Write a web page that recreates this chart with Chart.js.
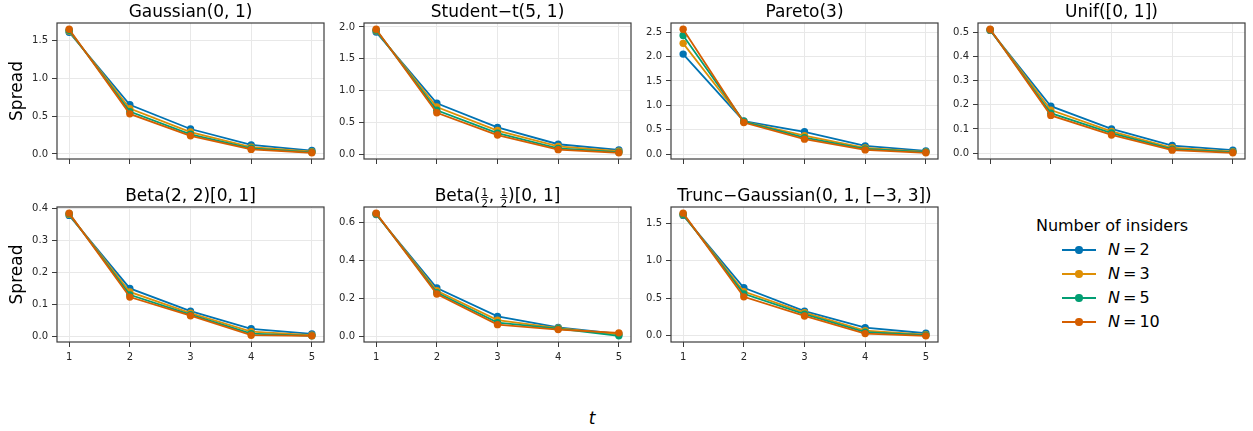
<!DOCTYPE html>
<html>
<head>
<meta charset="utf-8">
<script src="https://cdn.jsdelivr.net/npm/chart.js@4/dist/chart.umd.min.js"></script>
<style>
  html, body { margin: 0; padding: 0; background: #fff; }
  body { position: relative; width: 1253px; height: 431px; overflow: hidden; font-family: 'DejaVu Sans', sans-serif; }
  canvas { position: absolute; }
  .txt { position: absolute; color: #000; white-space: nowrap; line-height: 1; }
</style>
</head>
<body>
<div id="legend"></div>
<div class="txt" id="xlabel" style="font-size:17px;font-style:italic;left:592px;top:418px;transform:translate(-50%,-50%);">t</div>
<script>
// Time steps on the x axis
const steps = [1, 2, 3, 4, 5];
const xTicks = [1, 2, 3, 4, 5];

// Series: number of insiders
const seriesLabels = ['2', '3', '5', '10'];
const seriesColors = ['#0173B2', '#DE8F05', '#029E73', '#D55E00'];

// Spread per time step, one row per series (N = 2, 3, 5, 10)
const gaussianSpread = [
  [1.61, 0.65, 0.33, 0.12, 0.045],
  [1.625, 0.60, 0.29, 0.09, 0.03],
  [1.635, 0.56, 0.26, 0.075, 0.022],
  [1.65, 0.53, 0.24, 0.06, 0.015]
];
const studentSpread = [
  [1.92, 0.80, 0.42, 0.155, 0.065],
  [1.94, 0.74, 0.37, 0.12, 0.045],
  [1.95, 0.69, 0.33, 0.09, 0.03],
  [1.965, 0.65, 0.30, 0.07, 0.02]
];
const paretoSpread = [
  [2.05, 0.68, 0.46, 0.17, 0.07],
  [2.27, 0.67, 0.38, 0.13, 0.05],
  [2.43, 0.67, 0.34, 0.11, 0.045],
  [2.56, 0.65, 0.31, 0.09, 0.03]
];
const uniformSpread = [
  [0.508, 0.194, 0.100, 0.031, 0.012],
  [0.510, 0.178, 0.090, 0.022, 0.006],
  [0.511, 0.165, 0.083, 0.016, 0.004],
  [0.513, 0.156, 0.075, 0.012, 0.001]
];
const beta22Spread = [
  [0.379, 0.151, 0.080, 0.025, 0.009],
  [0.382, 0.140, 0.074, 0.016, 0.005],
  [0.384, 0.131, 0.069, 0.010, 0.003],
  [0.386, 0.124, 0.066, 0.005, 0.003]
];
const betaHalfSpread = [
  [0.642, 0.254, 0.105, 0.047, 0.012],
  [0.645, 0.240, 0.085, 0.043, 0.010],
  [0.646, 0.230, 0.072, 0.040, 0.002],
  [0.649, 0.223, 0.061, 0.035, 0.018]
];
const truncGaussianSpread = [
  [1.605, 0.64, 0.33, 0.11, 0.035],
  [1.615, 0.59, 0.31, 0.07, 0.015],
  [1.62, 0.56, 0.29, 0.05, 0.008],
  [1.635, 0.52, 0.265, 0.03, 0.0]
];

// Y tick spacing of each panel
const yTickSteps = [0.5, 0.5, 0.5, 0.1, 0.1, 0.2, 0.5];

// Panel titles, as text runs; {frac:[num, den]} is a stacked fraction
const panelTitles = [
  [{ t: 'Gaussian(0, 1)' }],
  [{ t: 'Student\u2212t(5, 1)' }],
  [{ t: 'Pareto(3)' }],
  [{ t: 'Unif([0, 1])' }],
  [{ t: 'Beta(2, 2)[0, 1]' }],
  [{ t: 'Beta(' }, { frac: ['1', '2'] }, { t: ', ' }, { frac: ['1', '2'] }, { t: ')[0, 1]' }],
  [{ t: 'Trunc\u2212Gaussian(0, 1, [\u22123, 3])' }]
];

const panelValues = [gaussianSpread, studentSpread, paretoSpread, uniformSpread,
                     beta22Spread, betaHalfSpread, truncGaussianSpread];

// Grid geometry (pixels)
const colLeft = [57, 364, 671, 978];
const rowTop = [23, 207];
const plotW = 267;
const plotH = [136, 135];
const FONT = "'DejaVu Sans', sans-serif";

// Frame around the plot area plus the panel title
const panelDecor = {
  id: 'panelDecor',
  afterDraw(chart, args, opts) {
    const { ctx, chartArea } = chart;
    const { left, right, top, bottom } = chartArea;
    ctx.save();
    ctx.strokeStyle = '#3c3c3c';
    ctx.lineWidth = 1.2;
    ctx.strokeRect(left, top, right - left, bottom - top);

    const segs = opts.segments || [];
    const mainFont = '17px ' + FONT;
    const fracFont = '10px ' + FONT;
    ctx.fillStyle = '#000';
    ctx.textBaseline = 'alphabetic';
    ctx.textAlign = 'left';
    const widths = segs.map(s => {
      if (s.frac) {
        ctx.font = fracFont;
        return Math.max(ctx.measureText(s.frac[0]).width, ctx.measureText(s.frac[1]).width) + 2;
      }
      ctx.font = mainFont;
      return ctx.measureText(s.t).width;
    });
    const total = widths.reduce((a, b) => a + b, 0);
    let x = (left + right) / 2 - total / 2;
    const y = top - 6;
    segs.forEach((s, i) => {
      const w = widths[i];
      if (s.frac) {
        ctx.font = fracFont;
        ctx.textAlign = 'center';
        ctx.fillText(s.frac[0], x + w / 2, y - 5);
        ctx.fillText(s.frac[1], x + w / 2, y + 5.5);
        ctx.fillRect(x + 0.5, y - 3.8, w - 1, 0.8);
        ctx.textAlign = 'left';
      } else {
        ctx.font = mainFont;
        ctx.fillText(s.t, x, y);
      }
      x += w;
    });
    ctx.restore();
  }
};

function makePanel(idx) {
  const row = idx < 4 ? 0 : 1;
  const col = idx < 4 ? idx : idx - 4;
  const yW = col === 0 ? 57 : 44;
  const padTop = row === 0 ? 23 : 30;
  const padRight = 10;
  const xH = 30;
  const values = panelValues[idx];

  const canvas = document.createElement('canvas');
  const cw = yW + plotW + padRight;
  const ch = padTop + plotH[row] + xH;
  canvas.width = cw;
  canvas.height = ch;
  canvas.style.width = cw + 'px';
  canvas.style.height = ch + 'px';
  canvas.style.left = (colLeft[col] - yW) + 'px';
  canvas.style.top = (rowTop[row] - padTop) + 'px';
  document.body.appendChild(canvas);

  // autoscale with a 5% margin on each side
  const all = values.flat();
  const lo = Math.min(...all), hi = Math.max(...all);
  const margin = (hi - lo) * 0.05;

  const datasets = values.map((vals, s) => ({
    label: 'N = ' + seriesLabels[s],
    data: steps.map((t, k) => ({ x: t, y: vals[k] })),
    borderColor: seriesColors[s],
    backgroundColor: seriesColors[s],
    pointBackgroundColor: seriesColors[s],
    pointBorderWidth: 0,
    pointRadius: 3.7,
    borderWidth: 1.8,
    tension: 0,
    order: values.length - s
  }));

  new Chart(canvas, {
    type: 'line',
    data: { datasets },
    plugins: [panelDecor],
    options: {
      responsive: false,
      animation: false,
      devicePixelRatio: 1,
      events: [],
      layout: { padding: { top: padTop, right: padRight, left: 0, bottom: 0 } },
      plugins: {
        legend: { display: false },
        tooltip: { enabled: false },
        panelDecor: { segments: panelTitles[idx] }
      },
      scales: {
        x: {
          type: 'linear',
          min: 0.8,
          max: 5.2,
          afterBuildTicks(scale) { scale.ticks = xTicks.map(v => ({ value: v })); },
          ticks: {
            display: row === 1,
            font: { family: FONT, size: 10 },
            color: '#262626',
            padding: 4,
            maxRotation: 0,
            callback: v => String(v)
          },
          grid: { color: '#e8e8e8', tickColor: '#3c3c3c', tickLength: 5, lineWidth: 1 },
          border: { display: false },
          afterFit(scale) { scale.height = xH; }
        },
        y: {
          type: 'linear',
          min: lo - margin,
          max: hi + margin,
          ticks: {
            stepSize: yTickSteps[idx],
            includeBounds: false,
            font: { family: FONT, size: 10 },
            color: '#262626',
            padding: 4,
            callback: v => v.toFixed(1)
          },
          grid: { color: '#e8e8e8', tickColor: '#3c3c3c', tickLength: 5, lineWidth: 1 },
          border: { display: false },
          title: {
            display: col === 0,
            text: 'Spread',
            color: '#000',
            font: { family: FONT, size: 17 },
            padding: { top: 7, bottom: 0 }
          },
          afterFit(scale) { scale.width = yW; }
        }
      }
    }
  });
}

panelValues.forEach((_, i) => makePanel(i));

// Legend for the series
(function buildLegend() {
  const host = document.getElementById('legend');
  const title = document.createElement('div');
  title.className = 'txt';
  title.style.cssText = 'font-size:16px;left:1112px;top:226px;transform:translate(-50%,-50%);';
  title.textContent = 'Number of insiders';
  host.appendChild(title);
  seriesLabels.forEach((lab, i) => {
    const cy = 250 + i * 24;
    const line = document.createElement('div');
    line.style.cssText = `position:absolute;left:1062px;top:${cy - 0.9}px;width:34px;height:1.8px;background:${seriesColors[i]};`;
    const dot = document.createElement('div');
    dot.style.cssText = `position:absolute;left:${1079 - 3.7}px;top:${cy - 3.7}px;width:7.4px;height:7.4px;border-radius:50%;background:${seriesColors[i]};`;
    const txt = document.createElement('div');
    txt.className = 'txt';
    txt.style.cssText = `font-size:16px;left:1108px;top:${cy}px;transform:translateY(-50%);`;
    txt.innerHTML = `<i>N</i><span style="margin:0 3px">=</span>${lab}`;
    host.appendChild(line);
    host.appendChild(dot);
    host.appendChild(txt);
  });
})();
</script>
</body>
</html>
